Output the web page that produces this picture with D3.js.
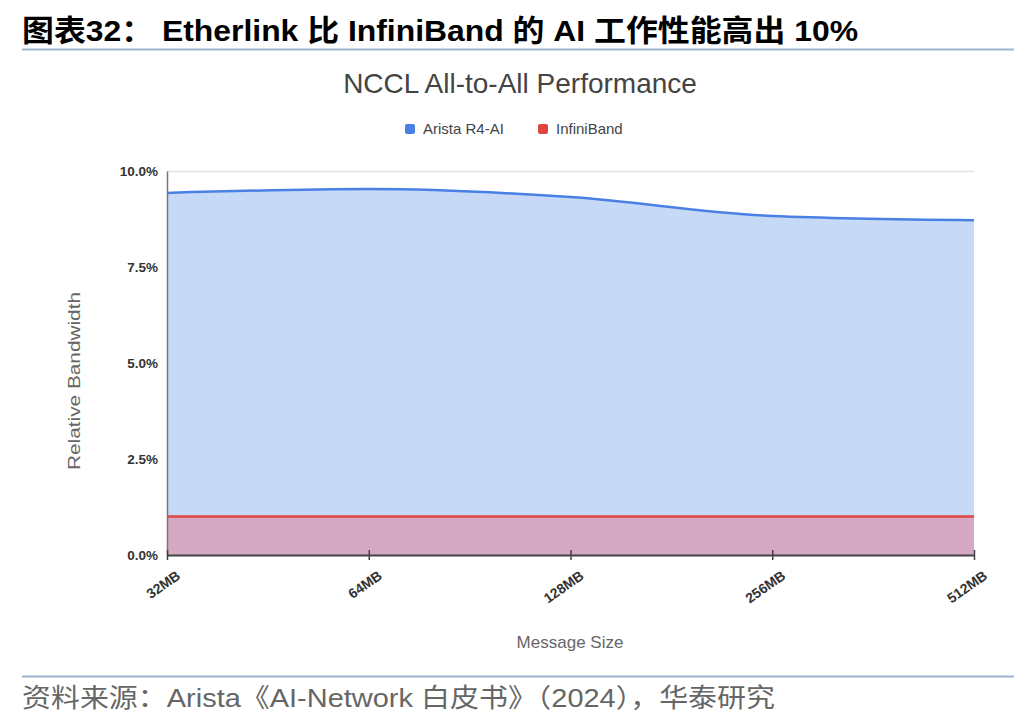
<!DOCTYPE html>
<html><head><meta charset="utf-8">
<script src="https://cdn.jsdelivr.net/npm/d3@7"></script>
<style>body{margin:0;background:#fff;}svg{display:block;}</style>
</head><body>
<svg id="c" width="1036" height="728"></svg>
<script>
const categories = ["32MB","64MB","128MB","256MB","512MB"];
const aristaValues = [9.43, 9.53, 9.32, 8.83, 8.72];
const infinibandValues = [1.0, 1.0, 1.0, 1.0, 1.0];
const yTicks = [0, 2.5, 5, 7.5, 10];
const seriesNames = ["Arista R4-AI", "InfiniBand"];

const svg = d3.select("#c");
const cjk = "'Liberation Sans', Arial, 'Noto Sans CJK SC', sans-serif";
const lat = "'Liberation Sans', Arial, sans-serif";

// header
svg.append("text").attr("x",22).attr("y",41).attr("font-family",cjk)
  .attr("font-size",30).attr("font-weight","bold").attr("fill","#000")
  .attr("textLength",836).attr("lengthAdjust","spacingAndGlyphs")
  .text("图表32：  Etherlink 比 InfiniBand 的 AI 工作性能高出 10%");
svg.append("line").attr("x1",22).attr("x2",1014).attr("y1",49.5).attr("y2",49.5)
  .attr("stroke","#9fb3cc").attr("stroke-width",2);
svg.append("line").attr("x1",22).attr("x2",1014).attr("y1",676.5).attr("y2",676.5)
  .attr("stroke","#9fb3cc").attr("stroke-width",2);
svg.append("text").attr("x",22).attr("y",707).attr("font-family",cjk)
  .attr("font-size",26).attr("fill","#666")
  .attr("textLength",753).attr("lengthAdjust","spacingAndGlyphs")
  .text("资料来源：Arista《AI-Network 白皮书》（2024），华泰研究");

// chart title
svg.append("text").attr("x",520).attr("y",93).attr("text-anchor","middle")
  .attr("font-family",lat).attr("font-size",28).attr("fill","#444")
  .text("NCCL All-to-All Performance");

// legend
const colors = ["#4a80e4","#e0443e"];
const leg = [{x:405, label:seriesNames[0], c:colors[0]},{x:538, label:seriesNames[1], c:colors[1]}];
leg.forEach(l=>{
  svg.append("rect").attr("x",l.x).attr("y",124).attr("width",10).attr("height",10).attr("rx",2).attr("fill",l.c);
  svg.append("text").attr("x",l.x+18).attr("y",134).attr("font-family",lat)
    .attr("font-size",15).attr("fill","#444").text(l.label);
});

const x0=167, x1=974, yTop=171, yBot=555;
const x = d3.scalePoint().domain(categories).range([x0,x1]);
const y = d3.scaleLinear().domain([0,10]).range([yBot,yTop]);

// gridlines
svg.append("g").selectAll("line").data(yTicks.filter(d=>d>0)).join("line")
  .attr("x1",x0).attr("x2",x1).attr("y1",d=>y(d)+0.5).attr("y2",d=>y(d)+0.5)
  .attr("stroke","#e2e2e2").attr("stroke-width",1.5);

const blue = categories.map((c,i)=>({c, v:aristaValues[i]}));
const red = categories.map((c,i)=>({c, v:infinibandValues[i]}));
const curve = d3.curveMonotoneX;
const area = d3.area().x(d=>x(d.c)).y0(y(0)).y1(d=>y(d.v)).curve(curve);
const line = d3.line().x(d=>x(d.c)).y(d=>y(d.v)).curve(curve);

svg.append("path").datum(blue).attr("d",area).attr("fill","#c6daf8");
svg.append("path").datum(red).attr("d",area).attr("fill","#d5a9c3");
svg.append("path").datum(blue).attr("d",line).attr("fill","none").attr("stroke",colors[0]).attr("stroke-width",2.5);
svg.append("path").datum(red).attr("d",line).attr("fill","none").attr("stroke",colors[1]).attr("stroke-width",2.5);

// y axis
const yAxis = d3.axisLeft(y).tickValues(yTicks).tickFormat(d=>d.toFixed(1)+"%").tickSize(0).tickPadding(9);
const gy = svg.append("g").attr("transform",`translate(${x0},0)`).call(yAxis);
gy.select(".domain").attr("stroke","#777").attr("stroke-width",1.5);
gy.selectAll("text").attr("font-family",lat).attr("font-size",13.5)
  .attr("font-weight","bold").attr("fill","#333");

// x axis
const xAxis = d3.axisBottom(x).tickSize(6).tickSizeOuter(0).tickPadding(6);
const gx = svg.append("g").attr("transform",`translate(0,${yBot})`).call(xAxis);
gx.select(".domain").attr("stroke","#444").attr("stroke-width",2);
gx.selectAll(".tick line").attr("stroke","#444").attr("stroke-width",1.5).attr("y1",-5).attr("y2",5);
gx.selectAll("text").attr("font-family",lat).attr("font-size",14)
  .attr("font-weight","bold").attr("fill","#333")
  .attr("text-anchor","end").attr("dy","0").attr("transform","translate(7,13) rotate(-35)");

// axis titles
svg.append("text").attr("transform","translate(80,381) rotate(-90)").attr("text-anchor","middle")
  .attr("font-family",lat).attr("font-size",17).attr("fill","#666")
  .attr("textLength",178).attr("lengthAdjust","spacingAndGlyphs")
  .text("Relative Bandwidth");
svg.append("text").attr("x",570).attr("y",648).attr("text-anchor","middle")
  .attr("font-family",lat).attr("font-size",17).attr("fill","#666")
  .text("Message Size");
</script>
</body></html>
